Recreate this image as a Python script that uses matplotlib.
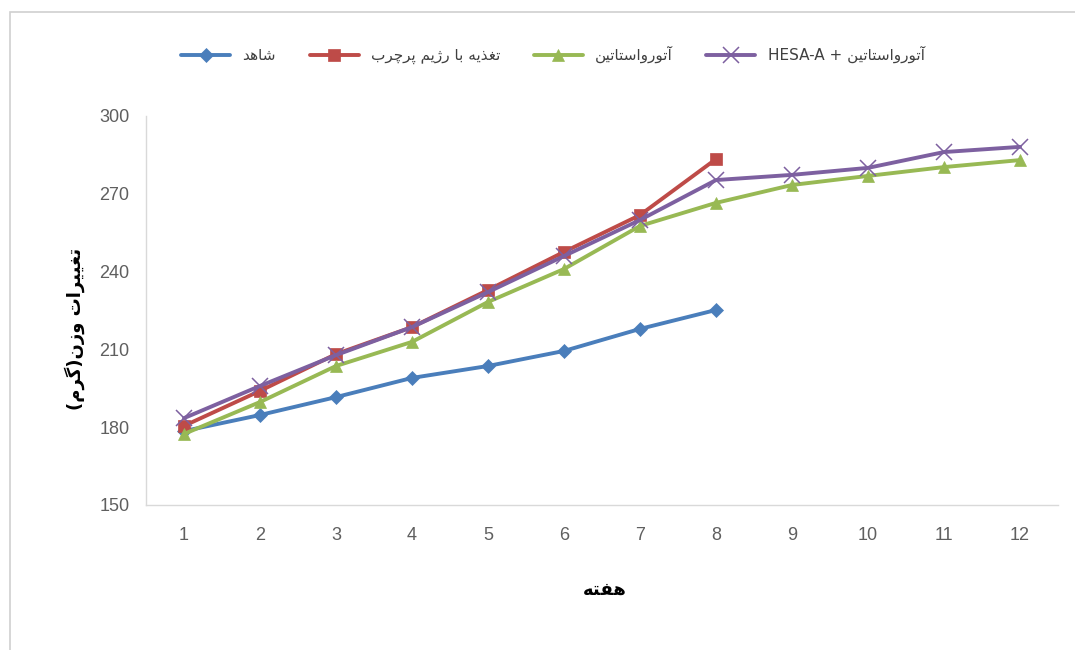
import matplotlib
matplotlib.use("Agg")
import matplotlib.pyplot as plt
from matplotlib.patches import Rectangle

# ---- data -------------------------------------------------------------
weeks = list(range(1, 13))
control = [178.5, 184.7, 191.6, 199.0, 203.6, 209.4, 217.9, 225.2]
high_fat = [180.5, 194.0, 208.2, 218.6, 232.9, 247.6, 261.8, 283.4]
atorva = [177.4, 189.7, 203.6, 212.9, 228.3, 241.0, 257.6, 266.5,
          273.4, 276.9, 280.3, 283.0]
atorva_hesa = [183.5, 195.9, 207.8, 218.6, 232.1, 246.0, 259.9, 275.3,
               277.3, 280.0, 286.1, 288.1]

series_names = ["شاهد", "تغذیه با رژیم پرچرب", "آتورواستاتین",
                "آتورواستاتین + HESA-A"]
y_title = "تغییرات وزن(گرم)"
x_title = "هفته"
y_ticks = [150, 180, 210, 240, 270, 300]

# ---- minimal Arabic/Persian shaping for display -------------------------
# (isolated, final, initial, medial) presentation forms
FORMS = {
    "ا": ("\uFE8D", "\uFE8E", None, None),
    "آ": ("\uFE81", "\uFE82", None, None),
    "ب": ("\uFE8F", "\uFE90", "\uFE91", "\uFE92"),
    "پ": ("\uFB56", "\uFB57", "\uFB58", "\uFB59"),
    "ت": ("\uFE95", "\uFE96", "\uFE97", "\uFE98"),
    "چ": ("\uFB7A", "\uFB7B", "\uFB7C", "\uFB7D"),
    "د": ("\uFEA9", "\uFEAA", None, None),
    "ذ": ("\uFEAB", "\uFEAC", None, None),
    "ر": ("\uFEAD", "\uFEAE", None, None),
    "ز": ("\uFEAF", "\uFEB0", None, None),
    "ژ": ("\uFB8A", "\uFB8B", None, None),
    "س": ("\uFEB1", "\uFEB2", "\uFEB3", "\uFEB4"),
    "ش": ("\uFEB5", "\uFEB6", "\uFEB7", "\uFEB8"),
    "غ": ("\uFECD", "\uFECE", "\uFECF", "\uFED0"),
    "ف": ("\uFED1", "\uFED2", "\uFED3", "\uFED4"),
    "گ": ("\uFB92", "\uFB93", "\uFB94", "\uFB95"),
    "م": ("\uFEE1", "\uFEE2", "\uFEE3", "\uFEE4"),
    "ن": ("\uFEE5", "\uFEE6", "\uFEE7", "\uFEE8"),
    "ه": ("\uFEE9", "\uFEEA", "\uFEEB", "\uFEEC"),
    "و": ("\uFEED", "\uFEEE", None, None),
    "ی": ("\uFBFC", "\uFBFD", "\uFBFE", "\uFBFF"),
}
MIRROR = {"(": ")", ")": "("}


def _is_ltr(ch):
    return ch.isascii() and (ch.isalnum() or ch in "-.")


def rtl(text):
    shaped = []
    n = len(text)
    for i, ch in enumerate(text):
        if ch not in FORMS:
            shaped.append(ch)
            continue
        iso, fin, ini, med = FORMS[ch]
        prev = text[i - 1] if i > 0 else ""
        nxt = text[i + 1] if i + 1 < n else ""
        joins_prev = prev in FORMS and FORMS[prev][2] is not None
        joins_next = nxt in FORMS and ini is not None
        if joins_prev and joins_next:
            shaped.append(med)
        elif joins_prev:
            shaped.append(fin)
        elif joins_next:
            shaped.append(ini)
        else:
            shaped.append(iso)
    visual = [MIRROR.get(c, c) for c in reversed(shaped)]
    # restore left-to-right runs (Latin letters, digits)
    out, run = [], []
    for c in visual:
        if _is_ltr(c):
            run.append(c)
        else:
            if run:
                out.extend(reversed(run))
                run = []
            out.append(c)
    if run:
        out.extend(reversed(run))
    return "".join(out)


# ---- figure -----------------------------------------------------------
plt.rcParams["font.family"] = ["DejaVu Sans"]
fig = plt.figure(figsize=(10.75, 6.5), dpi=100)
fig.patch.set_facecolor("white")

# chart-area frame
fig.patches.append(Rectangle((10 / 1075, -0.1), 1.2, 1 - 12 / 650 + 0.1,
                             transform=fig.transFigure, fill=False,
                             edgecolor="#D0D0D0", linewidth=1.2))

ax = fig.add_axes([146 / 1075, 1 - 505 / 650, (1058 - 146) / 1075,
                   (505 - 116) / 650])

styles = [
    (control, "#4A7EBB", "D", 7.5, None),
    (high_fat, "#BE4B48", "s", 8, None),
    (atorva, "#98B954", "^", 9, None),
    (atorva_hesa, "#7D60A0", "x", 12, 1.1),
]
handles = []
for (vals, col, mk, ms, mew), name in zip(styles, series_names):
    h, = ax.plot(weeks[:len(vals)], vals, color=col, linewidth=2.8,
                 marker=mk, markersize=ms, markerfacecolor=col,
                 markeredgecolor=col,
                 markeredgewidth=mew if mew else 0.5,
                 label=rtl(name), solid_capstyle="round")
    handles.append(h)

ax.set_xlim(0.5, 12.5)
ax.set_ylim(150, 300)
ax.set_xticks(weeks)
ax.set_yticks(y_ticks)
ax.tick_params(length=0, colors="#5F5F5F", labelsize=13)
for lab in ax.get_xticklabels() + ax.get_yticklabels():
    lab.set_family(["Liberation Sans", "DejaVu Sans"])
ax.tick_params(axis="x", pad=16)
ax.tick_params(axis="y", pad=12)

for side in ("top", "right"):
    ax.spines[side].set_visible(False)
for side in ("left", "bottom"):
    ax.spines[side].set_color("#D9D9D9")
    ax.spines[side].set_linewidth(1.0)

fig.text(75 / 1075, 1 - 329 / 650, rtl(y_title), rotation=90,
         ha="center", va="center", fontsize=13, fontweight="bold",
         color="black")
fig.text(605 / 1075, 1 - 590 / 650, rtl(x_title), ha="center",
         va="center", fontsize=13, fontweight="bold", color="black")

fig.legend(handles=handles, loc="center", ncol=4,
           bbox_to_anchor=(553 / 1075, 1 - 55 / 650), frameon=False,
           fontsize=11, handlelength=3.2, columnspacing=2.2,
           handletextpad=0.8, labelcolor="#404040")

fig.savefig("out.png", dpi=100, facecolor="white")
